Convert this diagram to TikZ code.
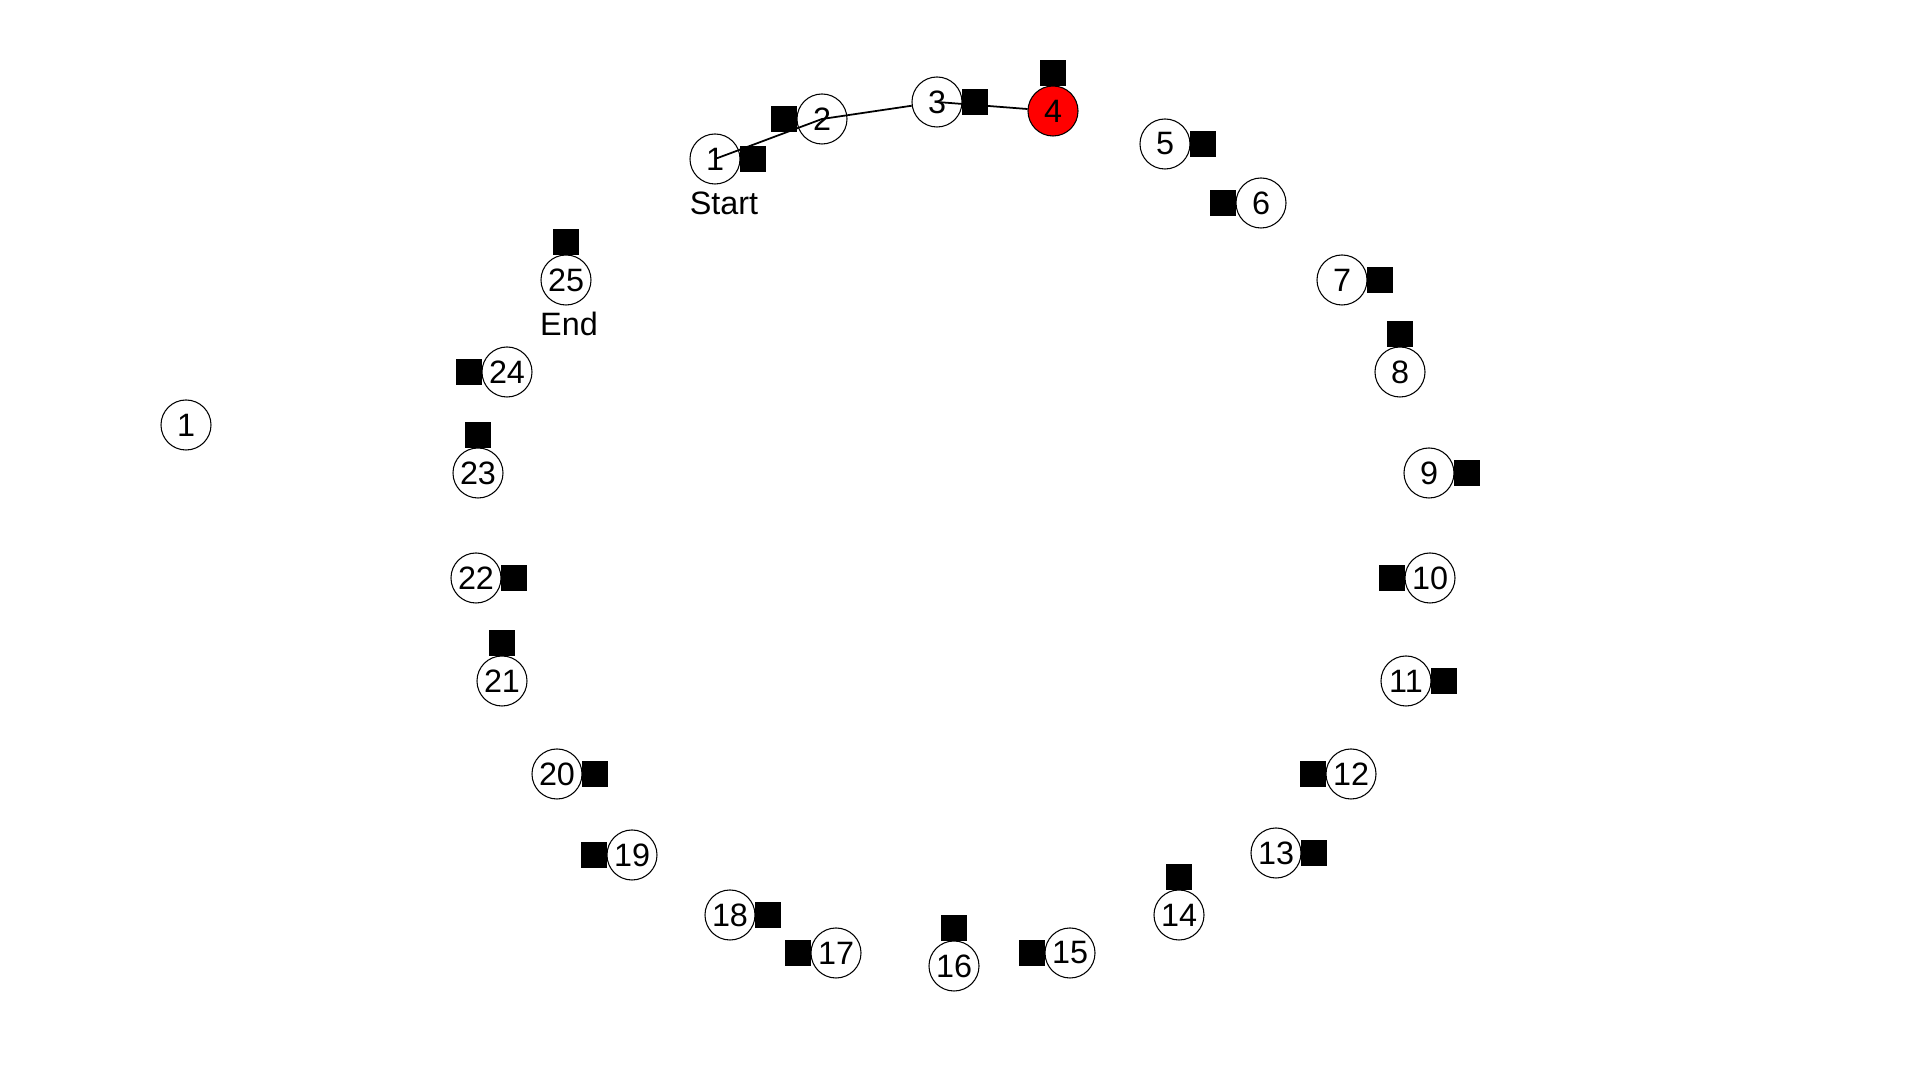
\documentclass[tikz,border=0pt]{standalone}
\usepackage{fontspec}
\setmainfont{Liberation Sans}
\usetikzlibrary{positioning}

\begin{document}
\begin{tikzpicture}[
    x=0.01cm, y=-0.01cm,
    font=\fontsize{9.2}{11}\selectfont,
    site/.style={draw, circle, fill=white, line width=0.3pt,
                 minimum size=5mm, inner sep=0pt},
    blk/.style={fill=black, minimum size=2.6mm, inner sep=0pt},
    route/.style={line width=0.5pt},
]
\useasboundingbox (0,0) rectangle (1920,1080);

%% ---- stray site on the left ----
\node[site] (iso) at (186,425) {1};

%% ---- ring of sites ----
\node[site]         (c1)  at (715,159)  {1};
\node[site]         (c2)  at (822,119)  {2};
\node[site]         (c3)  at (937,102)  {3};
\node[site, fill=red] (c4) at (1053,111) {4};
\node[site]         (c5)  at (1165,144) {5};
\node[site]         (c6)  at (1261,203) {6};
\node[site]         (c7)  at (1342,280) {7};
\node[site]         (c8)  at (1400,372) {8};
\node[site]         (c9)  at (1429,473) {9};
\node[site]         (c10) at (1430,578) {10};
\node[site]         (c11) at (1406,681) {11};
\node[site]         (c12) at (1351,774) {12};
\node[site]         (c13) at (1276,853) {13};
\node[site]         (c14) at (1179,915) {14};
\node[site]         (c15) at (1070,953) {15};
\node[site]         (c16) at (954,966)  {16};
\node[site]         (c17) at (836,953)  {17};
\node[site]         (c18) at (730,915)  {18};
\node[site]         (c19) at (632,855)  {19};
\node[site]         (c20) at (557,774)  {20};
\node[site]         (c21) at (502,681)  {21};
\node[site]         (c22) at (476,578)  {22};
\node[site]         (c23) at (478,473)  {23};
\node[site]         (c24) at (507,372)  {24};
\node[site]         (c25) at (566,280)  {25};

%% ---- start / end labels ----
\node (start) at (724,203) {Start};
\node (end)   at (569,324) {End};

%% ---- route walked so far ----
\draw[route] (c1.center) -- (c2.center) -- (c3);
\draw[route] (c3.center) -- (c4);

%% ---- black markers beside each site ----
\node[blk] (sq1)  at ([xshift=3.8mm]c1)  {};
\node[blk] (sq2)  at ([xshift=-3.8mm]c2) {};
\node[blk] (sq3)  at ([xshift=3.8mm]c3)  {};
\node[blk] (sq4)  at ([yshift=3.8mm]c4)  {};
\node[blk] (sq5)  at ([xshift=3.8mm]c5)  {};
\node[blk] (sq6)  at ([xshift=-3.8mm]c6) {};
\node[blk] (sq7)  at ([xshift=3.8mm]c7)  {};
\node[blk] (sq8)  at ([yshift=3.8mm]c8)  {};
\node[blk] (sq9)  at ([xshift=3.8mm]c9)  {};
\node[blk] (sq10) at ([xshift=-3.8mm]c10) {};
\node[blk] (sq11) at ([xshift=3.8mm]c11) {};
\node[blk] (sq12) at ([xshift=-3.8mm]c12) {};
\node[blk] (sq13) at ([xshift=3.8mm]c13) {};
\node[blk] (sq14) at ([yshift=3.8mm]c14) {};
\node[blk] (sq15) at ([xshift=-3.8mm]c15) {};
\node[blk] (sq16) at ([yshift=3.8mm]c16) {};
\node[blk] (sq17) at ([xshift=-3.8mm]c17) {};
\node[blk] (sq18) at ([xshift=3.8mm]c18) {};
\node[blk] (sq19) at ([xshift=-3.8mm]c19) {};
\node[blk] (sq20) at ([xshift=3.8mm]c20) {};
\node[blk] (sq21) at ([yshift=3.8mm]c21) {};
\node[blk] (sq22) at ([xshift=3.8mm]c22) {};
\node[blk] (sq23) at ([yshift=3.8mm]c23) {};
\node[blk] (sq24) at ([xshift=-3.8mm]c24) {};
\node[blk] (sq25) at ([yshift=3.8mm]c25) {};

\end{tikzpicture}
\end{document}
